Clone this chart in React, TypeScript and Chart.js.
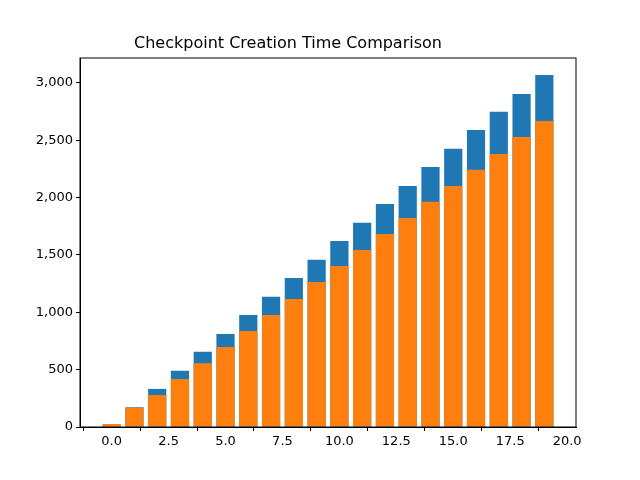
import { Chart, registerables } from "chart.js";
import { useEffect, useRef } from "react";

Chart.register(...registerables);

const positions = [0, 1, 2, 3, 4, 5, 6, 7, 8, 9, 10, 11, 12, 13, 14, 15, 16, 17, 18, 19];
const blueValues = [22, 172, 332, 490, 655, 810, 976, 1135, 1300, 1458, 1622, 1780, 1945, 2101, 2267, 2425, 2590, 2748, 2904, 3069];
const orangeValues = [25, 168, 279, 418, 556, 698, 836, 976, 1116, 1264, 1404, 1543, 1683, 1822, 1963, 2102, 2242, 2381, 2528, 2667];
const xTicks = [0, 2.5, 5, 7.5, 10, 12.5, 15, 17.5, 20];
const yTicks = [0, 500, 1000, 1500, 2000, 2500, 3000];

const boxPlugin = {
  id: "box",
  afterDraw(chart: Chart) {
    const { ctx, chartArea: a } = chart;
    ctx.save();
    ctx.strokeStyle = "#000";
    ctx.lineWidth = 1;
    ctx.strokeRect(a.left, a.top, a.right - a.left, a.bottom - a.top);
    ctx.restore();
  },
};

const font = { family: "DejaVu Sans", size: 13 };

export default function App() {
  const ref = useRef<HTMLCanvasElement>(null);
  useEffect(() => {
    const chart = new Chart(ref.current!, {
      type: "bar",
      data: {
        datasets: [
          {
            data: positions.map((x, i) => ({ x, y: orangeValues[i] })),
            backgroundColor: "#ff7f0e",
            grouped: false,
            barPercentage: 0.8,
            categoryPercentage: 1,
          },
          {
            data: positions.map((x, i) => ({ x, y: blueValues[i] })),
            backgroundColor: "#1f77b4",
            grouped: false,
            barPercentage: 0.8,
            categoryPercentage: 1,
          },
        ],
      },
      options: {
        animation: false,
        responsive: false,
        layout: { padding: { left: 0, right: 64, top: 0, bottom: 0 } },
        plugins: {
          legend: { display: false },
          tooltip: { enabled: false },
          title: {
            display: true,
            text: "Checkpoint Creation Time Comparison",
            color: "#000",
            font: { family: "DejaVu Sans", size: 16, weight: "normal" },
            padding: { top: 34, bottom: 4.8 },
          },
        },
        scales: {
          x: {
            type: "linear",
            min: -1.39,
            max: 20.39,
            offset: false,
            grid: { display: true, drawOnChartArea: false, tickLength: 4, color: "#000" },
            border: { color: "#000" },
            afterBuildTicks: (s: any) => {
              s.ticks = xTicks.map((v) => ({ value: v }));
            },
            afterFit: (s: any) => {
              s.height = 53;
            },
            ticks: {
              color: "#000",
              font,
              maxRotation: 0,
              callback: (v: any) => Number(v).toFixed(1),
            },
          },
          y: {
            min: 0,
            max: 3217,
            grid: { display: true, drawOnChartArea: false, tickLength: 4, color: "#000" },
            border: { color: "#000" },
            afterBuildTicks: (s: any) => {
              s.ticks = yTicks.map((v) => ({ value: v }));
            },
            afterFit: (s: any) => {
              s.width = 80;
            },
            ticks: { color: "#000", font },
          },
        },
      },
      plugins: [boxPlugin],
    });
    return () => chart.destroy();
  }, []);
  return (
    <div style={{ position: "fixed", left: 0, top: 0, width: 640, height: 480, background: "#fff" }}>
      <canvas ref={ref} width={640} height={480} style={{ width: 640, height: 480 }} />
    </div>
  );
}
